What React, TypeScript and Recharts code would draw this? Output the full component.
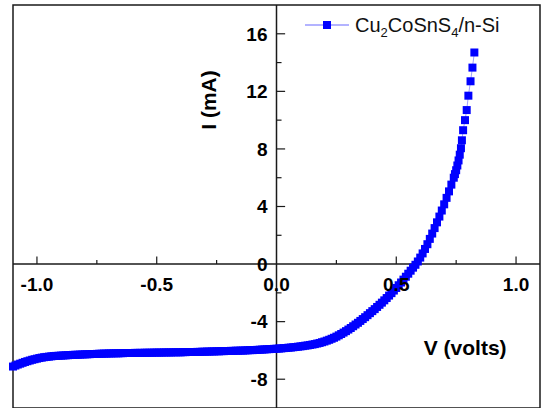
import {
  ScatterChart,
  Scatter,
  XAxis,
  YAxis,
  ZAxis,
  ReferenceLine,
  ReferenceDot,
  ReferenceArea,
  Legend
} from "recharts";

// I-V sweep (volts / mA)
const volts = [
  -1.10, -1.09, -1.08, -1.07, -1.06, -1.05, -1.04, -1.03, -1.02, -1.01,
  -1.00, -0.99, -0.98, -0.97, -0.96, -0.95, -0.94, -0.93, -0.92, -0.91,
  -0.90, -0.89, -0.88, -0.87, -0.86, -0.85, -0.84, -0.83, -0.82, -0.81,
  -0.80, -0.79, -0.78, -0.77, -0.76, -0.75, -0.74, -0.73, -0.72, -0.71,
  -0.70, -0.69, -0.68, -0.67, -0.66, -0.65, -0.64, -0.63, -0.62, -0.61,
  -0.60, -0.59, -0.58, -0.57, -0.56, -0.55, -0.54, -0.53, -0.52, -0.51,
  -0.50, -0.49, -0.48, -0.47, -0.46, -0.45, -0.44, -0.43, -0.42, -0.41,
  -0.40, -0.39, -0.38, -0.37, -0.36, -0.35, -0.34, -0.33, -0.32, -0.31,
  -0.30, -0.29, -0.28, -0.27, -0.26, -0.25, -0.24, -0.23, -0.22, -0.21,
  -0.20, -0.19, -0.18, -0.17, -0.16, -0.15, -0.14, -0.13, -0.12, -0.11,
  -0.10, -0.09, -0.08, -0.07, -0.06, -0.05, -0.04, -0.03, -0.02, -0.01,
  0.00, 0.01, 0.02, 0.03, 0.04, 0.05, 0.06, 0.07, 0.08, 0.09,
  0.10, 0.11, 0.12, 0.13, 0.14, 0.15, 0.16, 0.17, 0.18, 0.19,
  0.20, 0.21, 0.22, 0.23, 0.24, 0.25, 0.26, 0.27, 0.28, 0.29,
  0.30, 0.31, 0.32, 0.33, 0.34, 0.35, 0.36, 0.37, 0.38, 0.39,
  0.40, 0.41, 0.42, 0.43, 0.44, 0.45, 0.46, 0.47, 0.48, 0.49,
  0.50, 0.51, 0.52, 0.53, 0.54, 0.55, 0.56, 0.57, 0.58, 0.59,
  0.60, 0.61, 0.62, 0.63, 0.64, 0.65, 0.66, 0.67, 0.68, 0.69,
  0.70, 0.71, 0.72, 0.73, 0.74, 0.745, 0.75, 0.755, 0.76, 0.765,
  0.77, 0.774, 0.779, 0.787, 0.794, 0.801, 0.81, 0.818, 0.826
];

const currentMa = [
  -7.12, -7.05, -6.98, -6.92, -6.86, -6.80, -6.75, -6.70, -6.65, -6.61,
  -6.57, -6.53, -6.50, -6.47, -6.45, -6.43, -6.41, -6.39, -6.38, -6.37,
  -6.36, -6.35, -6.34, -6.33, -6.32, -6.31, -6.30, -6.30, -6.29, -6.28,
  -6.27, -6.27, -6.26, -6.25, -6.25, -6.24, -6.23, -6.23, -6.22, -6.22,
  -6.21, -6.21, -6.20, -6.20, -6.20, -6.19, -6.19, -6.18, -6.18, -6.18,
  -6.18, -6.17, -6.17, -6.17, -6.17, -6.16, -6.16, -6.16, -6.16, -6.15,
  -6.15, -6.15, -6.15, -6.14, -6.14, -6.14, -6.14, -6.13, -6.13, -6.13,
  -6.13, -6.12, -6.12, -6.11, -6.11, -6.11, -6.11, -6.10, -6.10, -6.09,
  -6.09, -6.08, -6.08, -6.07, -6.07, -6.06, -6.06, -6.05, -6.05, -6.04,
  -6.04, -6.03, -6.03, -6.02, -6.02, -6.01, -6.01, -6.00, -5.99, -5.98,
  -5.98, -5.97, -5.96, -5.95, -5.94, -5.93, -5.92, -5.91, -5.90, -5.89,
  -5.88, -5.87, -5.86, -5.84, -5.83, -5.81, -5.80, -5.78, -5.76, -5.74,
  -5.72, -5.70, -5.67, -5.65, -5.62, -5.59, -5.56, -5.52, -5.48, -5.43,
  -5.38, -5.32, -5.26, -5.19, -5.12, -5.04, -4.95, -4.86, -4.76, -4.66,
  -4.55, -4.44, -4.32, -4.20, -4.08, -3.95, -3.82, -3.69, -3.55, -3.41,
  -3.27, -3.13, -2.98, -2.83, -2.68, -2.52, -2.36, -2.19, -2.02, -1.84,
  -1.66, -1.47, -1.28, -1.08, -0.88, -0.67, -0.46, -0.25, -0.05, 0.18,
  0.45, 0.74, 1.05, 1.38, 1.75, 2.12, 2.50, 2.90, 3.30, 3.72,
  4.15, 4.60, 5.05, 5.52, 6.00, 6.25, 6.52, 6.85, 7.20, 7.60,
  8.05, 8.60, 9.30, 10.00, 10.70, 11.70, 12.70, 13.65, 14.70
];

const xMajorTicks = [-1.0, -0.5, 0.0, 0.5, 1.0];
const xMinorTicks = [-0.75, -0.25, 0.25, 0.75];
const yMajorTicks = [-8, -4, 0, 4, 8, 12, 16];
const yMinorTicks = [-6, -2, 2, 6, 10, 14];

const seriesName = "Cu2CoSnS4/n-Si";

const data = volts.map((v, k) => ({ v, i: currentMa[k] }));

const FONT = "'Liberation Sans', Arial, sans-serif";
const INK = "#1a1a1a";

function LegendBox() {
  return (
    <div
      style={{
        display: "flex",
        alignItems: "center",
        fontFamily: FONT,
        fontSize: 20,
        color: "#111",
        whiteSpace: "nowrap",
        lineHeight: "22px"
      }}
    >
      <svg width={44} height={10} style={{ display: "block" }}>
        <line x1={0} y1={5} x2={44} y2={5} stroke="#9a9aff" strokeWidth={1.5} />
        <rect x={18} y={1} width={8} height={8} fill="#0000ff" />
      </svg>
      <span style={{ marginLeft: 6 }}>
        Cu<sub style={{ fontSize: 13, lineHeight: 0 }}>2</sub>CoSnS
        <sub style={{ fontSize: 13, lineHeight: 0 }}>4</sub>/n-Si
      </span>
    </div>
  );
}

export default function App() {
  return (
    <div style={{ position: "absolute", left: 0, top: 0, background: "#fff" }}>
      <ScatterChart
        width={541}
        height={408}
        margin={{ top: 5, right: 1, bottom: 0, left: 13 }}
      >
        <XAxis type="number" dataKey="v" domain={[-1.1, 1.1]} hide />
        <YAxis type="number" dataKey="i" domain={[-10, 18]} hide />
        <ZAxis range={[81, 81]} />

        <ReferenceArea
          x1={-1.1}
          x2={1.1}
          y1={-10}
          y2={18}
          fill="none"
          stroke={INK}
          strokeWidth={1.5}
        />
        <ReferenceLine y={0} stroke={INK} strokeWidth={1.5} />
        <ReferenceLine x={0} stroke={INK} strokeWidth={1.5} />

        {xMajorTicks.filter(t => t !== 0).map(t => (
          <ReferenceLine
            key={"xM" + t}
            segment={[{ x: t, y: 0 }, { x: t, y: 0.53 }]}
            stroke={INK}
            strokeWidth={1.2}
          />
        ))}
        {xMinorTicks.map(t => (
          <ReferenceLine
            key={"xm" + t}
            segment={[{ x: t, y: 0 }, { x: t, y: 0.28 }]}
            stroke={INK}
            strokeWidth={1.2}
          />
        ))}
        {yMajorTicks.filter(t => t !== 0).map(t => (
          <ReferenceLine
            key={"yM" + t}
            segment={[{ x: 0, y: t }, { x: 0.036, y: t }]}
            stroke={INK}
            strokeWidth={1.2}
          />
        ))}
        {yMinorTicks.map(t => (
          <ReferenceLine
            key={"ym" + t}
            segment={[{ x: 0, y: t }, { x: 0.021, y: t }]}
            stroke={INK}
            strokeWidth={1.2}
          />
        ))}

        {xMajorTicks.map(t => (
          <ReferenceDot
            key={"xl" + t}
            x={t}
            y={0}
            r={0}
            stroke="none"
            label={{
              value: t.toFixed(1),
              position: "bottom",
              offset: 13,
              fill: "#000",
              fontSize: 19,
              fontWeight: 700,
              fontFamily: FONT
            }}
          />
        ))}
        {yMajorTicks.map(t => (
          <ReferenceDot
            key={"yl" + t}
            x={0}
            y={t}
            r={0}
            stroke="none"
            label={{
              value: String(t),
              position: "left",
              offset: 9,
              fill: "#000",
              fontSize: 19,
              fontWeight: 700,
              fontFamily: FONT
            }}
          />
        ))}

        <ReferenceDot
          x={-0.283}
          y={11.4}
          r={0}
          stroke="none"
          label={{
            value: "I (mA)",
            position: "center",
            angle: -90,
            fill: "#000",
            fontSize: 21,
            fontWeight: 700,
            fontFamily: FONT
          }}
        />
        <ReferenceDot
          x={0.7875}
          y={-5.8}
          r={0}
          stroke="none"
          label={{
            value: "V (volts)",
            position: "center",
            fill: "#000",
            fontSize: 21,
            fontWeight: 700,
            fontFamily: FONT
          }}
        />

        <Legend
          layout="vertical"
          align="center"
          verticalAlign="middle"
          content={() => <LegendBox />}
          wrapperStyle={{ top: 14, left: 305, width: "auto", height: "auto" }}
        />

        <Scatter
          name={seriesName}
          data={data}
          shape="square"
          fill="#0000ff"
          stroke="none"
          line={{ stroke: "#a0a0ff", strokeWidth: 1 }}
          isAnimationActive={false}
        />
      </ScatterChart>
    </div>
  );
}
